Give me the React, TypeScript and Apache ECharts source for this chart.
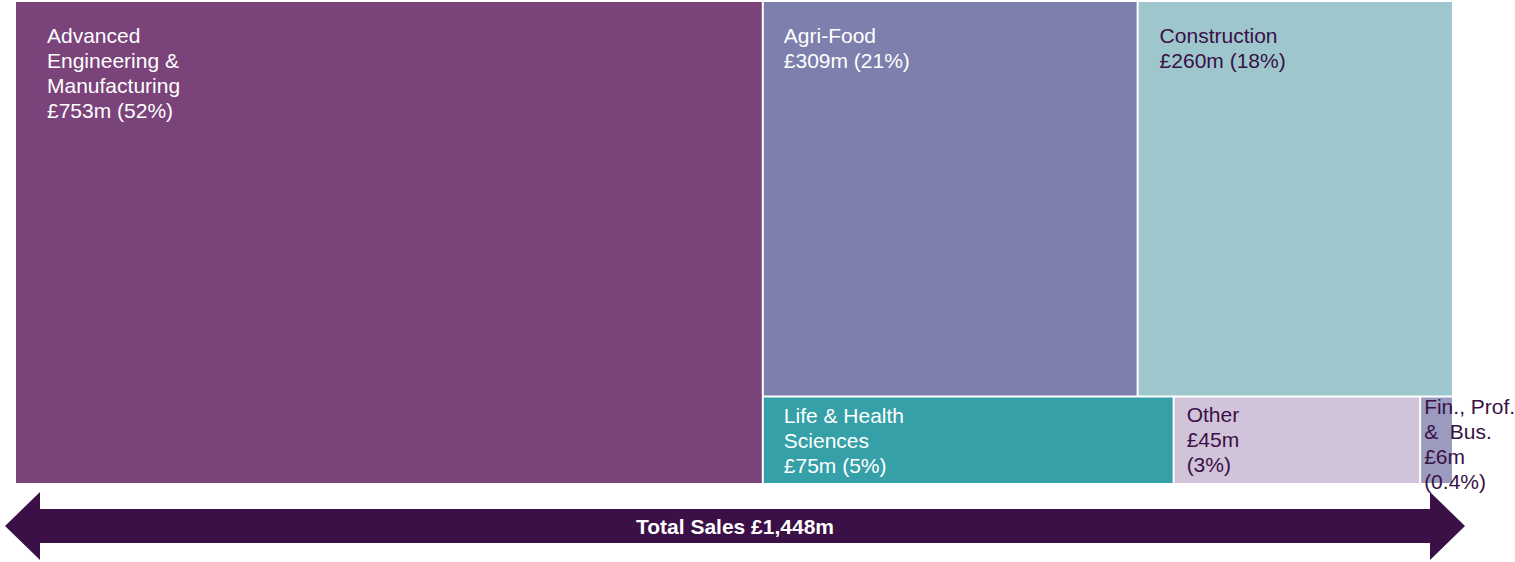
import React, { useEffect, useRef } from "react";
import * as echarts from "echarts";

const categories = [
  "Advanced\nEngineering &\nManufacturing",
  "Agri-Food",
  "Construction",
  "Life & Health\nSciences",
  "Other",
  "Fin., Prof.\n&  Bus.",
];
const values = [753, 309, 260, 75, 45, 6];
const valueLabels = ["£753m (52%)", "£309m (21%)", "£260m (18%)", "£75m (5%)", "£45m\n(3%)", "£6m\n(0.4%)"];
const totalLabel = "Total Sales £1,448m";

const fills = ["#7a437a", "#7d80ad", "#9dc7cd", "#35a0a8", "#d1c3d9", "#9b9bc0"];
const textColors = ["#ffffff", "#ffffff", "#3a1046", "#ffffff", "#3a1046", "#3a1046"];
const labelDx = [31, 20, 21, 20, 12, 3];
const labelDy = [21, 21, 21, 6, 5, -3];

function buildRects() {
  const total = values.reduce((a, b) => a + b, 0);
  const rest = total - values[0];
  const topSum = values[1] + values[2];
  const botSum = values[3] + values[4] + values[5];
  const topFrac = topSum / rest;
  const rects: number[][] = [];
  rects.push([0, values[0], 0, 1]);
  let x = values[0];
  for (const i of [1, 2]) {
    const w = (values[i] / topSum) * rest;
    rects.push([x, x + w, 0, topFrac]);
    x += w;
  }
  x = values[0];
  for (const i of [3, 4, 5]) {
    const w = (values[i] / botSum) * rest;
    rects.push([x, x + w, topFrac, 1]);
    x += w;
  }
  return { rects, total };
}

export default function App() {
  const ref = useRef<HTMLDivElement>(null);
  useEffect(() => {
    if (!ref.current) return;
    const chart = echarts.init(ref.current, null, { renderer: "svg" });
    const { rects, total } = buildRects();
    const font = "Liberation Sans, Arial, sans-serif";
    chart.setOption({
      animation: false,
      grid: { left: 15, top: 1, width: 1438, height: 483 },
      xAxis: { type: "value", min: 0, max: total, show: false },
      yAxis: { type: "value", min: 0, max: 1, inverse: true, show: false },
      series: [
        {
          type: "custom",
          clip: false,
          data: rects,
          renderItem: (params: any, api: any) => {
            const i = params.dataIndex;
            const p0 = api.coord([api.value(0), api.value(2)]);
            const p1 = api.coord([api.value(1), api.value(3)]);
            const x0 = p0[0] + 1;
            const y0 = p0[1] + 1;
            const w = p1[0] - p0[0] - 2;
            const h = p1[1] - p0[1] - 2;
            return {
              type: "group",
              children: [
                {
                  type: "rect",
                  shape: { x: x0, y: y0, width: w, height: h },
                  style: { fill: fills[i] },
                },
                {
                  type: "text",
                  z2: 10,
                  style: {
                    text: categories[i] + "\n" + valueLabels[i],
                    x: x0 + labelDx[i],
                    y: y0 + labelDy[i],
                    fill: textColors[i],
                    fontSize: 21,
                    fontFamily: font,
                    lineHeight: 25,
                    align: "left",
                    verticalAlign: "top",
                  },
                },
              ],
            };
          },
        },
      ],
      graphic: [
        {
          type: "polygon",
          shape: {
            points: [
              [5, 526], [40, 492], [40, 509], [1430, 509], [1430, 492],
              [1465, 526], [1430, 560], [1430, 543], [40, 543], [40, 560],
            ],
          },
          style: { fill: "#3a1046" },
        },
        {
          type: "text",
          x: 735,
          y: 526,
          style: {
            text: totalLabel,
            fill: "#ffffff",
            fontSize: 21,
            fontWeight: "bold",
            fontFamily: font,
            align: "center",
            verticalAlign: "middle",
          },
        },
      ],
    });
    return () => chart.dispose();
  }, []);
  return (
    <div
      ref={ref}
      style={{ position: "absolute", left: 0, top: 0, width: 1515, height: 562 }}
    />
  );
}
